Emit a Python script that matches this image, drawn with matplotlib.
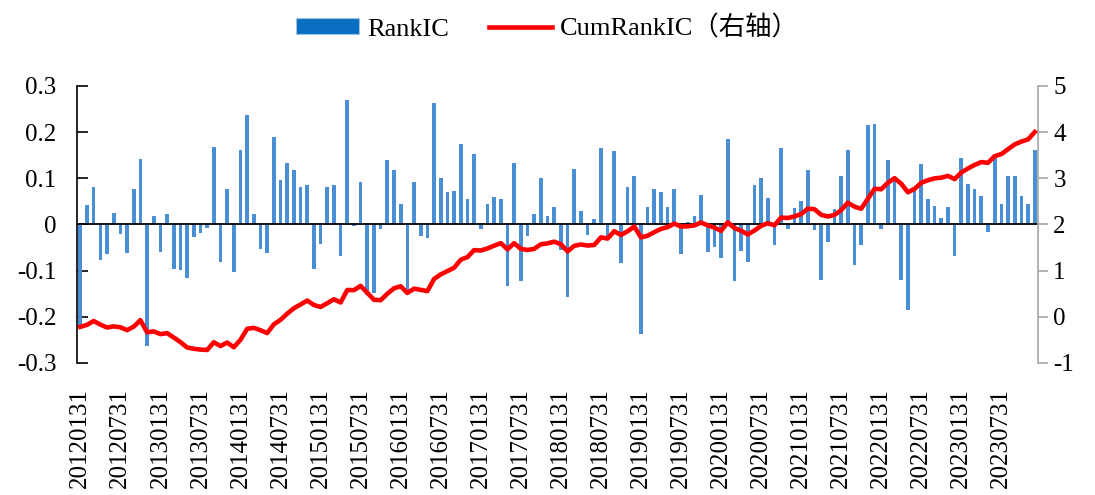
import matplotlib
matplotlib.use("Agg")
import matplotlib.pyplot as plt
import pandas as pd

plt.rcParams['font.family'] = ['Liberation Serif', 'Noto Sans CJK SC']
plt.rcParams['axes.unicode_minus'] = False

# monthly RankIC, 2012-01 .. 2023-12
rank_ic = [
    -0.217, 0.043, 0.082, -0.076, -0.064, 0.025, -0.020, -0.062, 0.076, 0.141, -0.263, 0.019,
    -0.059, 0.022, -0.096, -0.099, -0.117, -0.027, -0.018, -0.008, 0.167, -0.082, 0.076, -0.102,
    0.162, 0.237, 0.022, -0.053, -0.061, 0.190, 0.097, 0.133, 0.118, 0.081, 0.085, -0.096,
    -0.043, 0.082, 0.085, -0.069, 0.270, -0.003, 0.092, -0.152, -0.149, -0.009, 0.139, 0.118,
    0.045, -0.145, 0.092, -0.024, -0.029, 0.263, 0.100, 0.071, 0.072, 0.175, 0.056, 0.152,
    -0.009, 0.045, 0.060, 0.055, -0.134, 0.133, -0.122, -0.025, 0.023, 0.100, 0.019, 0.038,
    -0.056, -0.156, 0.121, 0.030, -0.023, 0.012, 0.165, -0.026, 0.159, -0.083, 0.082, 0.104,
    -0.237, 0.037, 0.077, 0.071, 0.037, 0.077, -0.064, 0.005, 0.019, 0.063, -0.060, -0.048,
    -0.073, 0.186, -0.123, -0.058, -0.082, 0.085, 0.100, 0.058, -0.044, 0.166, -0.009, 0.035,
    0.050, 0.118, -0.012, -0.121, -0.037, 0.033, 0.105, 0.161, -0.087, -0.045, 0.215, 0.218,
    -0.009, 0.139, 0.100, -0.120, -0.186, 0.075, 0.131, 0.056, 0.040, 0.015, 0.038, -0.069,
    0.143, 0.088, 0.077, 0.061, -0.016, 0.144, 0.045, 0.105, 0.105, 0.061, 0.045, 0.162,
]

dates = pd.date_range("2012-01-31", periods=len(rank_ic), freq="ME").strftime("%Y%m%d").tolist()
cum_rank_ic = pd.Series(rank_ic).cumsum().tolist()

left_ticks = [-0.3, -0.2, -0.1, 0, 0.1, 0.2, 0.3]
left_labels = ["-0.3", "-0.2", "-0.1", "0", "0.1", "0.2", "0.3"]
right_ticks = [-1, 0, 1, 2, 3, 4, 5]

bar_color = '#4A8FD5'
line_color = '#FF0000'

fig = plt.figure(figsize=(10.95, 4.95), dpi=100)
ax = fig.add_axes([0.0703, 0.2667, 0.8777, 0.5596])

x = list(range(len(rank_ic)))
ax.bar(x, rank_ic, width=0.55, color=bar_color, zorder=2)
ax.axhline(0, color='black', lw=1.3, zorder=3)

ax.set_xlim(-0.5, len(rank_ic) - 0.5)
ax.set_ylim(-0.3, 0.3)
ax.set_yticks(left_ticks)
ax.set_yticklabels(left_labels, fontsize=18)
ax.tick_params(axis='y', direction='in', length=8, width=1.2, pad=15, color='black')

ax.set_xticks(x[::6])
ax.set_xticklabels(dates[::6], rotation=90, fontsize=18)
ax.tick_params(axis='x', length=0, pad=18)

for side in ['top', 'right', 'bottom']:
    ax.spines[side].set_visible(False)
ax.spines['left'].set_linewidth(1.2)

# cumulative line on the right axis
ax2 = ax.twinx()
ax2.plot(x, cum_rank_ic, color=line_color, lw=3.3, solid_joinstyle='round', zorder=4)
ax2.set_ylim(-1, 5)
ax2.set_yticks(right_ticks)
ax2.set_yticklabels([str(t) for t in right_ticks], fontsize=18)
ax2.tick_params(axis='y', direction='out', length=7, width=1.2, color='#A6A6A6', pad=4)
for side in ['top', 'left', 'bottom']:
    ax2.spines[side].set_visible(False)
ax2.spines['right'].set_color('#A6A6A6')
ax2.spines['right'].set_linewidth(1.2)

handles = [plt.Rectangle((0, 0), 1, 1, facecolor='#0A6FC0', edgecolor='#9CC3E6', lw=0.8),
           plt.Line2D([0], [0], color=line_color, lw=3.3)]
fig.legend(handles, ['RankIC', 'CumRankIC（右轴）'], loc='center', bbox_to_anchor=(0.5, 0.943),
           ncol=2, frameon=False, fontsize=19, handlelength=2.4, handleheight=0.55,
           handletextpad=0.3, columnspacing=1.5)

plt.savefig("out.png", dpi=100)
plt.close()
